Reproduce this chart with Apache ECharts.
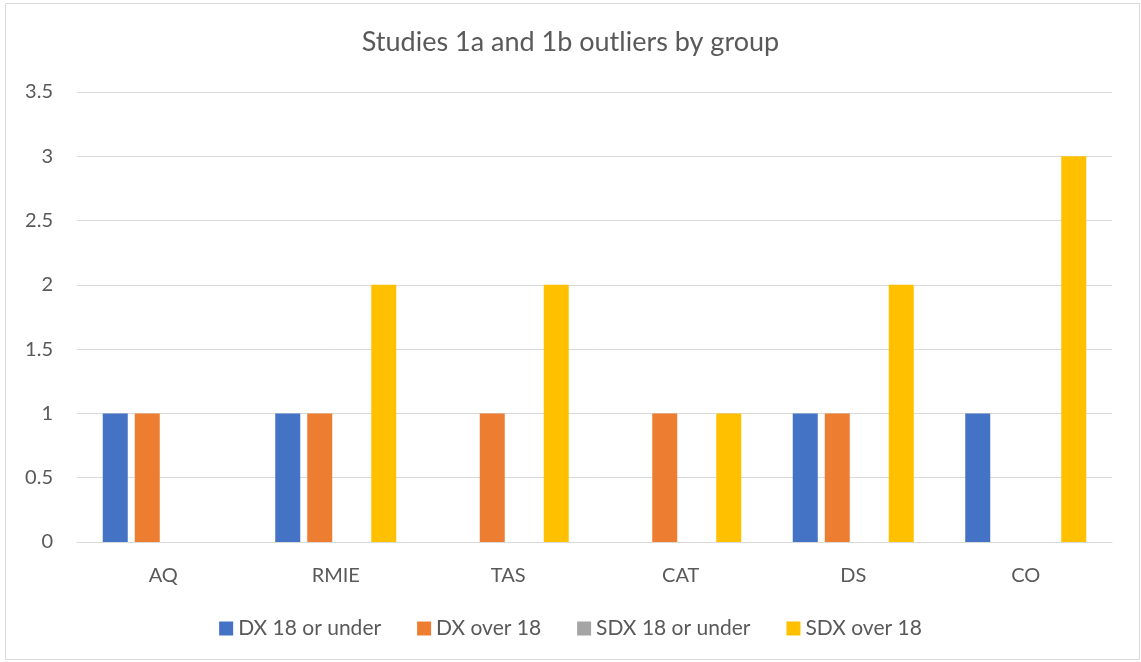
<!DOCTYPE html>
<html>
<head>
<meta charset="utf-8">
<script src="https://cdn.jsdelivr.net/npm/echarts@6/dist/echarts.min.js"></script>
<style>
  html, body { margin: 0; padding: 0; background: #fff; }
  #main { width: 1141px; height: 662px; }
</style>
</head>
<body>
<div id="main"></div>
<script>
  // 데이터
  var categories = ['AQ', 'RMIE', 'TAS', 'CAT', 'DS', 'CO'];
  var seriesNames = ['DX 18 or under', 'DX over 18', 'SDX 18 or under', 'SDX over 18'];
  var dxUnder18 = [1, 1, 0, 0, 1, 1];
  var dxOver18 = [1, 1, 1, 1, 1, 0];
  var sdxUnder18 = [0, 0, 0, 0, 0, 0];
  var sdxOver18 = [0, 2, 2, 1, 2, 3];
  var colors = ['#4472C4', '#ED7D31', '#A5A5A5', '#FFC000'];

  var myChart = echarts.init(document.getElementById('main'));
  var font = 'Lato, "Open Sans", sans-serif';

  function bar(name, data) {
    return {
      name: name,
      type: 'bar',
      barWidth: 25,
      barGap: '28%',
      data: data
    };
  }

  var option = {
    color: colors,
    animation: false,
    textStyle: { fontFamily: font },
    title: {
      text: 'Studies 1a and 1b outliers by group',
      left: 'center',
      top: 24,
      textStyle: { color: '#595959', fontSize: 27, fontWeight: 'normal', fontFamily: font }
    },
    graphic: [{
      type: 'rect',
      shape: { x: 5.5, y: 3.5, width: 1134, height: 656 },
      style: { fill: 'none', stroke: '#d9d9d9', lineWidth: 1 }
    }],
    legend: {
      data: seriesNames,
      top: 613,
      left: 'center',
      itemWidth: 14,
      itemHeight: 14,
      itemGap: 36,
      icon: 'rect',
      textStyle: { color: '#595959', fontSize: 21, fontFamily: font }
    },
    grid: { left: 77, right: 29, top: 92, bottom: 120 },
    xAxis: {
      type: 'category',
      data: categories,
      axisLine: { lineStyle: { color: '#d9d9d9', width: 1 } },
      axisTick: { show: false },
      axisLabel: { color: '#595959', fontSize: 20, margin: 24 }
    },
    yAxis: {
      type: 'value',
      min: 0,
      max: 3.5,
      interval: 0.5,
      axisLine: { show: false },
      axisTick: { show: false },
      splitLine: { lineStyle: { color: '#d9d9d9', width: 1 } },
      axisLabel: { color: '#595959', fontSize: 20, margin: 24 }
    },
    series: [
      bar(seriesNames[0], dxUnder18),
      bar(seriesNames[1], dxOver18),
      bar(seriesNames[2], sdxUnder18),
      bar(seriesNames[3], sdxOver18)
    ]
  };

  myChart.setOption(option);
</script>
</body>
</html>
